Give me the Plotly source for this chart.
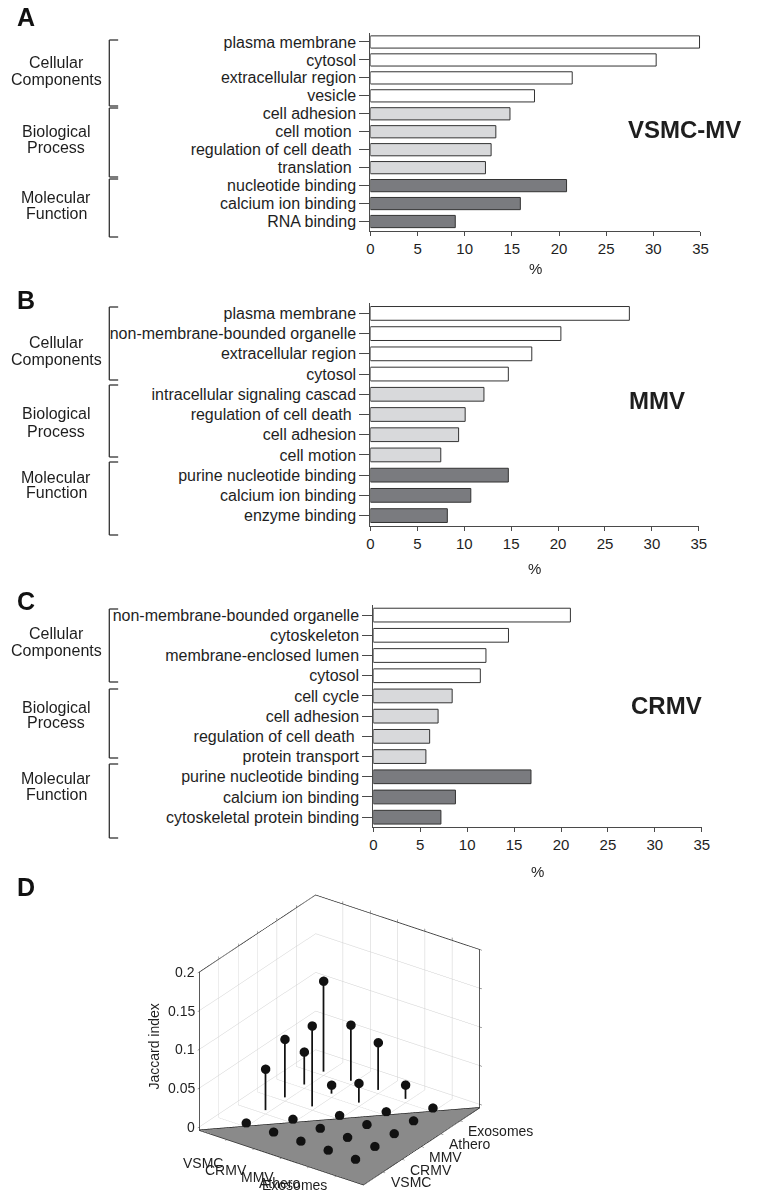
import plotly.graph_objects as go

W, H = 757, 1195

# ---------------- data ----------------
a_terms = ["plasma membrane", "cytosol", "extracellular region", "vesicle",
           "cell adhesion", "cell motion\u00a0", "regulation of cell death\u00a0", "translation\u00a0",
           "nucleotide binding", "calcium ion binding", "RNA binding"]
a_vals = [34.9, 30.3, 21.4, 17.4, 14.8, 13.3, 12.8, 12.2, 20.8, 15.9, 9.0]

b_terms = ["plasma membrane", "non-membrane-bounded organelle", "extracellular region", "cytosol",
           "intracellular signaling cascad", "regulation of cell death\u00a0", "cell adhesion", "cell motion",
           "purine nucleotide binding", "calcium ion binding", "enzyme binding"]
b_vals = [27.6, 20.3, 17.2, 14.7, 12.1, 10.1, 9.4, 7.5, 14.7, 10.7, 8.2]

c_terms = ["non-membrane-bounded organelle", "cytoskeleton", "membrane-enclosed lumen", "cytosol",
           "cell cycle", "cell adhesion", "regulation of cell death\u00a0", "protein transport",
           "purine nucleotide binding", "calcium ion binding", "cytoskeletal protein binding"]
c_vals = [21.0, 14.4, 12.0, 11.4, 8.4, 6.9, 6.0, 5.6, 16.8, 8.75, 7.2]

term_group = [0, 0, 0, 0, 1, 1, 1, 1, 2, 2, 2]
group_names = [["Cellular", "Components"], ["Biological", "Process"], ["Molecular", "Function"]]
panel_titles = ["VSMC-MV", "MMV", "CRMV"]
panel_letters = ["A", "B", "C", "D"]
x_ticks = [0, 5, 10, 15, 20, 25, 30, 35]

mv_types = ["VSMC", "CRMV", "MMV", "Athero", "Exosomes"]
jaccard = [
    [0, 0.053, 0.075, 0.042, 0.117],
    [0, 0, 0.104, 0.011, 0.072],
    [0, 0, 0, 0.025, 0.061],
    [0, 0, 0, 0, 0.018],
    [0, 0, 0, 0, 0],
]
z_ticks = [0, 0.05, 0.1, 0.15, 0.2]

# ---------------- style / layout ----------------
group_fill = ["#ffffff", "#d8d9db", "#7a7b7f"]
FONT = "Arial, Liberation Sans, Helvetica, sans-serif"
TXT = "#1e1e1e"
LINE = "#4a4a4a"


def px(xp):
    return xp / W


def py(yp):
    return 1 - yp / H


panels = [
    dict(terms=a_terms, vals=a_vals, x0=372.3, x1=707.7, y0=33, y1=230.5,
         brackets=[(40, 106), (108, 177), (179, 237)],
         labels=[(62, 79), (132, 148), (198, 213)], title=(751, 130, "right"),
         letter_y=17, pct_y=268),
    dict(terms=b_terms, vals=b_vals, x0=372.3, x1=706.0, y0=303.3, y1=525.7,
         brackets=[(307, 380), (385, 457), (462, 535)],
         labels=[(342, 359), (413, 431), (477, 492)], title=(633, 400, "left"),
         letter_y=300, pct_y=568),
    dict(terms=c_terms, vals=c_vals, x0=375.3, x1=709.0, y0=605, y1=827.3,
         brackets=[(609, 682), (689, 758), (764, 838)],
         labels=[(633, 650), (707, 723), (778, 794)], title=(635.5, 705, "left"),
         letter_y=601, pct_y=871),
]

fig = go.Figure()
shapes = []
annotations = []

for k, p in enumerate(panels):
    sfx = "" if k == 0 else str(k + 1)
    fig.add_trace(go.Bar(
        x=p["vals"], y=p["terms"], orientation="h",
        marker=dict(color=[group_fill[g] for g in term_group],
                    line=dict(color="#333333", width=1)),
        width=0.68, xaxis="x" + sfx, yaxis="y" + sfx, hoverinfo="skip",
    ))
    fig.layout["xaxis" + sfx] = dict(
        domain=[px(p["x0"]), px(p["x1"])], anchor="y" + sfx, range=[0, 35],
        tickvals=x_ticks, ticks="outside", ticklen=4, tickcolor=LINE,
        showline=True, linecolor=LINE, linewidth=1.2, showgrid=False, zeroline=False,
        tickfont=dict(family=FONT, size=15, color=TXT), fixedrange=True,
    )
    fig.layout["yaxis" + sfx] = dict(
        domain=[py(p["y1"]), py(p["y0"])], anchor="x" + sfx, type="category",
        range=[10.5, -0.5], tickmode="array", tickvals=p["terms"], ticktext=p["terms"],
        ticks="outside", ticklen=10, tickcolor=LINE,
        showline=True, linecolor=LINE, linewidth=1.2, showgrid=False, zeroline=False,
        tickfont=dict(family=FONT, size=16, color=TXT), fixedrange=True,
    )
    # brackets
    for (b0, b1) in p["brackets"]:
        for (xa, ya, xb, yb) in [(107, b0, 107, b1), (107, b0, 116, b0), (107, b1, 116, b1)]:
            shapes.append(dict(type="line", xref="paper", yref="paper",
                               x0=px(xa), y0=py(ya), x1=px(xb), y1=py(yb),
                               line=dict(color="#333333", width=1.3)))
    # group labels
    for gi, (ly0, ly1) in enumerate(p["labels"]):
        for txt, yy in zip(group_names[gi], (ly0, ly1)):
            annotations.append(dict(text=txt, x=px(53), y=py(yy), xref="paper", yref="paper",
                                    showarrow=False, xanchor="center", yanchor="middle",
                                    font=dict(family=FONT, size=16, color=TXT)))
    # panel title
    tx, ty, tanchor = p["title"]
    annotations.append(dict(text="<b>%s</b>" % panel_titles[k], x=px(tx), y=py(ty),
                            xref="paper", yref="paper", showarrow=False,
                            xanchor=tanchor, yanchor="middle",
                            font=dict(family=FONT, size=24, color=TXT)))
    # % label
    annotations.append(dict(text="%", x=px((p["x0"] + p["x1"]) / 2), y=py(p["pct_y"]),
                            xref="paper", yref="paper", showarrow=False,
                            xanchor="center", yanchor="middle",
                            font=dict(family=FONT, size=15, color=TXT)))
    # panel letter
    annotations.append(dict(text="<b>%s</b>" % panel_letters[k], x=px(22.5), y=py(p["letter_y"]),
                            xref="paper", yref="paper", showarrow=False,
                            xanchor="center", yanchor="middle",
                            font=dict(family=FONT, size=25, color="#111111")))

# ---------------- panel D (3D stem plot) ----------------
n = len(mv_types)
idx = list(range(1, n + 1))
lo, hi = 0, n + 1
z_min = -0.005      # box floor a hair below z=0 so the zero-height markers stay visible
floor_z = -0.0045   # grey patch just above the box floor (avoids clipping at the bound)

sx, sy, sz = [], [], []
mx, my, mz = [], [], []
for i in range(n):
    for j in range(n):
        v = jaccard[i][j]
        mx.append(idx[i]); my.append(idx[j]); mz.append(v)
        if v > 0:
            sx += [idx[i], idx[i], None]
            sy += [idx[j], idx[j], None]
            sz += [0, v, None]

fig.add_trace(go.Mesh3d(
    x=[lo, hi, hi], y=[lo, lo, hi], z=[floor_z] * 3, i=[0], j=[1], k=[2],
    color="#8a8a8a", flatshading=True, hoverinfo="skip",
    lighting=dict(ambient=1, diffuse=0, specular=0, roughness=1, fresnel=0),
    scene="scene",
))
fig.add_trace(go.Scatter3d(
    x=[lo, hi], y=[lo, hi], z=[floor_z, floor_z], mode="lines",
    line=dict(color="#111111", width=2.5), hoverinfo="skip", scene="scene",
))
fig.add_trace(go.Scatter3d(
    x=sx, y=sy, z=sz, mode="lines",
    line=dict(color="#111111", width=3.5), hoverinfo="skip", scene="scene",
))
fig.add_trace(go.Scatter3d(
    x=mx, y=my, z=mz, mode="markers",
    marker=dict(color="#111111", size=5.5, line=dict(width=0)), hoverinfo="skip", scene="scene",
))

ax3 = dict(showbackground=False, showgrid=True, gridcolor="#cfcfcf", gridwidth=1,
           showline=True, linecolor="#222222", linewidth=1.5, mirror="all",
           zeroline=False, showticklabels=False, showspikes=False,
           ticks="outside", ticklen=3, tickcolor="#444444", title=dict(text=""))

left_shift = [(-2.5, -27), (-5, -25.5), (-5.5, -23.5), (-7, -19.5), (-7.5, -13)]
scene_ann = []
for t, name, (dxs, dys) in zip(idx, mv_types, left_shift):
    scene_ann.append(dict(x=t, y=lo, z=0, text=name, showarrow=False,
                          xanchor="right", yanchor="middle", xshift=dxs, yshift=dys,
                          font=dict(family=FONT, size=14, color=TXT)))
    scene_ann.append(dict(x=hi, y=t, z=0, text=name, showarrow=False,
                          xanchor="left", yanchor="middle", xshift=6, yshift=-14,
                          font=dict(family=FONT, size=14, color=TXT)))
for zt in z_ticks:
    scene_ann.append(dict(x=lo, y=lo, z=zt, text="%g" % zt, showarrow=False,
                          xanchor="right", yanchor="middle", xshift=-3,
                          font=dict(family=FONT, size=14, color=TXT)))

fig.layout.scene = dict(
    domain=dict(x=[px(171), px(511)], y=[py(1191), py(889)]),
    xaxis=dict(ax3, range=[lo, hi], tickvals=idx),
    yaxis=dict(ax3, range=[lo, hi], tickvals=idx),
    zaxis=dict(ax3, range=[z_min, 0.2], tickvals=z_ticks),
    aspectmode="manual", aspectratio=dict(x=1.33, y=1.33, z=1.19),
    camera=dict(eye=dict(x=1.53, y=-2.16, z=1.407), up=dict(x=0, y=0, z=1),
                center=dict(x=0, y=0, z=0), projection=dict(type="orthographic")),
    annotations=scene_ann, dragmode=False,
)

annotations.append(dict(text="Jaccard index", x=px(152), y=py(1047), xref="paper", yref="paper",
                        showarrow=False, textangle=-90, xanchor="center", yanchor="middle",
                        font=dict(family=FONT, size=14, color=TXT)))
annotations.append(dict(text="<b>%s</b>" % panel_letters[3], x=px(22.5), y=py(887),
                        xref="paper", yref="paper", showarrow=False,
                        xanchor="center", yanchor="middle",
                        font=dict(family=FONT, size=25, color="#111111")))

fig.update_layout(
    width=W, height=H, margin=dict(l=0, r=0, t=0, b=0),
    paper_bgcolor="white", plot_bgcolor="white", showlegend=False,
    shapes=shapes, annotations=annotations, hovermode=False,
    font=dict(family=FONT, color=TXT),
)

fig.write_html("out.html", config={"displayModeBar": False},
               post_script="document.body.style.margin='0px';")
